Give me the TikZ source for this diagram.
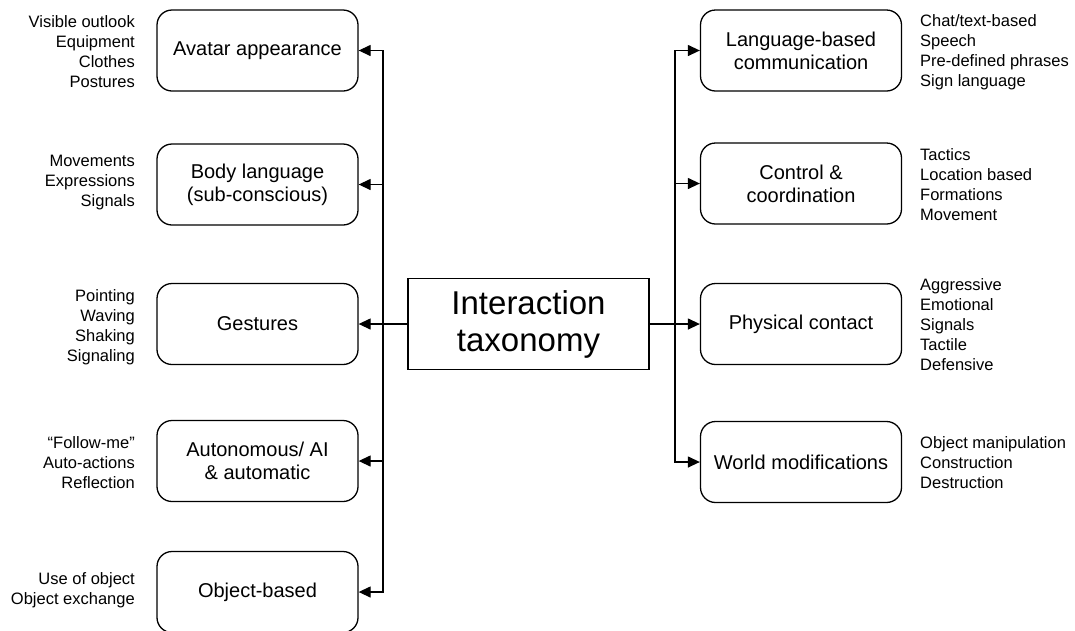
\documentclass[tikz,border=0pt]{standalone}
\usepackage{fontspec}
\setmainfont{Liberation Sans}
\usetikzlibrary{arrows.meta}
\begin{document}
\begin{tikzpicture}[x=1pt,y=-1pt,
  cat/.style={draw, line width=1.3pt, rounded corners=15pt, minimum width=201pt, minimum height=81pt, align=center, inner sep=0pt, font=\fontsize{20}{23}\selectfont},
  hub/.style={draw, line width=1.3pt, minimum width=241pt, minimum height=91pt, align=center, inner sep=0pt, font=\fontsize{33}{37}\selectfont},
  lablL/.style={anchor=east, align=right, inner sep=0pt, font=\fontsize{16.5}{20}\selectfont},
  lablR/.style={anchor=west, align=left, inner sep=0pt, font=\fontsize{16.5}{20}\selectfont},
  arr/.style={line width=1.3pt, -{Triangle[length=12pt,width=11pt]}}]
\useasboundingbox (0,0) rectangle (1075,630);
\fill[white] (0,0) rectangle (1075,630);

\node[hub] (hub) at (528.5,324) {Interaction\\taxonomy};

\node[cat] (ava) at (257.5,50.5) {Avatar appearance};
\node[cat] (body) at (257.5,184.5) {Body language\\(sub-conscious)};
\node[cat] (gest) at (257.5,324) {Gestures};
\node[cat] (auto) at (257.5,461) {Autonomous/ AI\\\& automatic};
\node[cat] (obj) at (257.5,592) {Object-based};

\node[cat] (lang) at (801,50.5) {Language-based\\communication};
\node[cat] (ctrl) at (801,183.5) {Control \&\\coordination};
\node[cat] (phys) at (801,324) {Physical contact};
\node[cat] (world) at (801,462) {World modifications};

\node[lablL] (tava) at (135,52) {Visible outlook\\Equipment\\Clothes\\Postures};
\node[lablL] (tbody) at (135,183) {Movements\\Expressions\\Signals};
\node[lablL] (tgest) at (135,327) {Pointing\\Waving\\Shaking\\Signaling};
\node[lablL] (tauto) at (135,463) {“Follow-me”\\Auto-actions\\Reflection};
\node[lablL] (tobj) at (135,590) {Use of object\\Object exchange};

\node[lablR] (tlang) at (920,52) {Chat/text-based\\Speech\\Pre-defined phrases\\Sign language};
\node[lablR] (tctrl) at (920,185) {Tactics\\Location based\\Formations\\Movement};
\node[lablR] (tphys) at (920,325) {Aggressive\\Emotional\\Signals\\Tactile\\Defensive};
\node[lablR] (tworld) at (920,463) {Object manipulation\\Construction\\Destruction};

\coordinate (L) at (383,324);
\coordinate (R) at (675,324);

\draw[arr] (hub.west) -- (gest.east);
\draw[arr] (L) |- (ava.east);
\draw[arr] (L) |- (body.east);
\draw[arr] (L) |- (auto.east);
\draw[arr] (L) |- (obj.east);

\draw[arr] (hub.east) -- (phys.west);
\draw[arr] (R) |- (lang.west);
\draw[arr] (R) |- (ctrl.west);
\draw[arr] (R) |- (world.west);
\end{tikzpicture}
\end{document}
